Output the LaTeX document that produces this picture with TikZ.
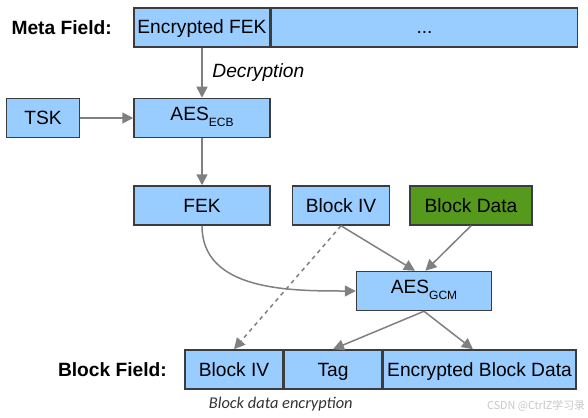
\documentclass[tikz,border=0pt]{standalone}
\usepackage{fontspec}
\setmainfont{Liberation Sans}
\newfontfamily\notefont{Carlito}
\newfontfamily\cjk{Noto Sans CJK SC}
\usetikzlibrary{positioning,calc,arrows.meta}

\definecolor{boxblue}{HTML}{99CCFF}
\definecolor{boxgreen}{HTML}{55991D}
\definecolor{edgegrey}{HTML}{3C3C3C}
\definecolor{arrowgrey}{HTML}{808080}

\newcommand{\subtxt}[1]{\raisebox{-0.55ex}{\fontsize{6}{6}\selectfont #1}}

\begin{document}
\begin{tikzpicture}[x=0.5pt, y=-0.5pt, font=\fontsize{9.6}{11.5}\selectfont]

        \def\h{19.5pt}

        % Boxes of the two fields and the arrows between them
        \tikzset{
            field/.style={draw=edgegrey, fill=boxblue, line width=0.75pt,
                minimum height=\h, inner sep=0pt,
                text height=7.5pt, text depth=1pt},
            cipher/.style={field, text depth=5pt},
            datafield/.style={field, fill=boxgreen},
            rowlabel/.style={inner sep=0pt,
                font=\fontsize{9.6}{11.5}\selectfont\bfseries},
            flow/.style={draw=arrowgrey, line width=0.75pt,
                -{Triangle[width=5.5pt,length=5.5pt]}}
        }

        \useasboundingbox[fill=white] (0,0) rectangle (588,417);

        % Meta field and key decryption
        \begin{scope}
            \node (EFEK) [field, minimum width=68pt] at (202, 27.5)
            {Encrypted FEK};
            \node (DOTS) [field, minimum width=153pt, right=0pt of EFEK]
            {...};
            \node (META) [rowlabel, left=10.5pt of EFEK] {Meta Field:};
            \node (ECB) [cipher, minimum width=68pt, below=25pt of EFEK]
            {AES\subtxt{ECB}};
            \node (TSK) [field, minimum width=36.5pt, left=26.5pt of ECB]
            {TSK};
        \end{scope}

        % Inputs of the block cipher
        \begin{scope}
            \node (FEK) [field, minimum width=68pt, below=23.5pt of ECB]
            {FEK};
            \node (IV) [field, minimum width=48.5pt, right=10.5pt of FEK]
            {Block IV};
            \node (DATA) [datafield, minimum width=61pt, right=9.5pt of IV]
            {Block Data};
            \node (GCM) [cipher, minimum width=67.5pt,
                below right=22.5pt and 42.5pt of FEK]
            {AES\subtxt{GCM}};
        \end{scope}

        % Block field
        \begin{scope}
            \node (BIV) [field, minimum width=49pt] at (234, 369.5)
            {Block IV};
            \node (TAG) [field, minimum width=48.5pt, right=0pt of BIV]
            {Tag};
            \node (EBD) [field, minimum width=96.5pt, right=0pt of TAG]
            {Encrypted Block Data};
            \node (BLOCK) [rowlabel, left=8.5pt of BIV] {Block Field:};
            \node (NOTE) [inner sep=0pt, text=black!80,
                font=\notefont\itshape\fontsize{8.2}{9}\selectfont]
            at ($(BIV.south east)+(-3,14)$) {Block data encryption};
            \node (MARK) [inner sep=0pt, text=black!22,
                font=\cjk\fontsize{5.4}{6}\selectfont]
            at (536, 406) {CSDN @CtrlZ学习录};
        \end{scope}

        \begin{scope}
            \draw[flow] (EFEK) -- node[right=1.5pt] {\itshape Decryption} (ECB);
            \draw[flow] (TSK) -- (ECB);
            \draw[flow] (ECB) -- (FEK);
            \draw[flow] (FEK.south) to[out=-90, in=180] (GCM.west);
            \draw[flow] (IV.south) -- (GCM.114);
            \draw[flow] (DATA.south) -- (GCM.86);
            \draw[flow, dash pattern=on 2pt off 2pt] (IV.south) -- (BIV.north);
            \draw[flow] (GCM.south) -- (TAG.north);
            \draw[flow] (GCM.south) -- (EBD.108);
        \end{scope}

\end{tikzpicture}
\end{document}
